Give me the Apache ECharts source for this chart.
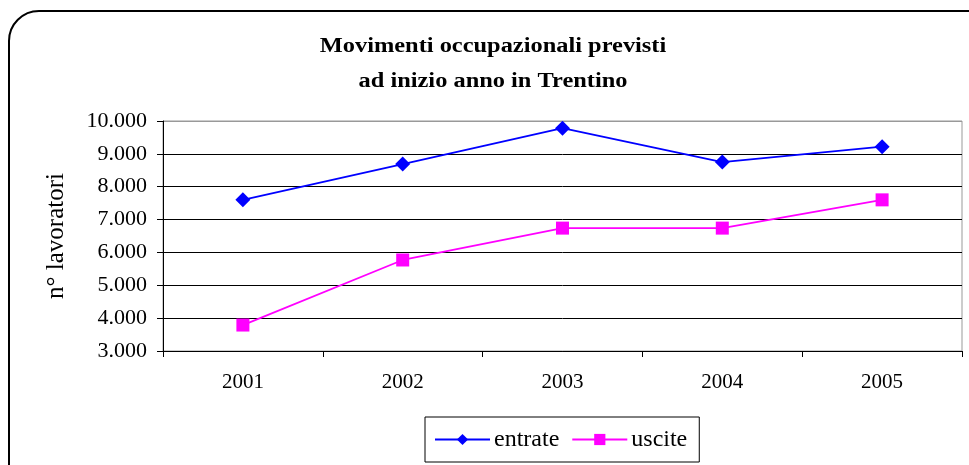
<!DOCTYPE html>
<html>
<head>
<meta charset="utf-8">
<script src="https://cdn.jsdelivr.net/npm/echarts@6/dist/echarts.min.js"></script>
<style>
  html, body { margin: 0; padding: 0; background: #fff; }
  #chart { width: 969px; height: 465px; }
</style>
</head>
<body>
<div id="chart"></div>
<script>
// dati
var anni = ['2001', '2002', '2003', '2004', '2005']
var entrate = [7600, 8690, 9780, 8750, 9220]
var uscite = [3790, 5770, 6740, 6740, 7600]
var yTicks = ['3.000', '4.000', '5.000', '6.000', '7.000', '8.000', '9.000', '10.000']

var serif = '"Liberation Serif", "DejaVu Serif", serif'

var chart = echarts.init(document.getElementById('chart'))
chart.setOption({
  animation: false,
  graphic: [
    {
      type: 'rect',
      shape: { x: 9, y: 11, width: 1000, height: 500, r: 30 },
      style: { fill: 'none', stroke: '#000', lineWidth: 2 }
    },
    {
      type: 'text',
      x: 493,
      y: 29,
      scaleX: 1.22,
      style: {
        text: 'Movimenti occupazionali previsti\nad inizio anno in Trentino',
        fontFamily: serif,
        fontWeight: 'bold',
        fontSize: 20,
        lineHeight: 35,
        textAlign: 'center',
        fill: '#000'
      }
    }
  ],
  grid: {
    left: 163,
    top: 121,
    width: 799,
    height: 230,
    show: true,
    borderColor: '#999',
    borderWidth: 1
  },
  legend: {
    left: 425,
    top: 417,
    borderColor: '#000',
    borderWidth: 1,
    padding: [10, 12, 10, 9],
    itemWidth: 55,
    itemHeight: 14,
    itemGap: 12,
    textStyle: { fontFamily: serif, fontSize: 24, lineHeight: 25, color: '#000', padding: [0, 0, 0, -1] },
    data: ['entrate', 'uscite']
  },
  xAxis: {
    type: 'category',
    data: anni,
    boundaryGap: true,
    axisLine: { lineStyle: { color: '#000', width: 1 } },
    axisTick: { show: true, alignWithLabel: false, length: 6, lineStyle: { color: '#000' } },
    axisLabel: { fontFamily: serif, fontSize: 21, color: '#000', margin: 21 }
  },
  yAxis: {
    type: 'value',
    min: 3000,
    max: 10000,
    interval: 1000,
    name: 'n° lavoratori',
    nameLocation: 'middle',
    nameGap: 94,
    nameTextStyle: { fontFamily: serif, fontSize: 25, color: '#000' },
    axisLine: { show: true, lineStyle: { color: '#000', width: 1 } },
    axisTick: { show: true, length: 6, lineStyle: { color: '#000' } },
    axisLabel: {
      fontFamily: serif,
      fontSize: 22,
      color: '#000',
      margin: 16,
      formatter: function (v) { return yTicks[(v - 3000) / 1000] }
    },
    splitLine: {
      show: true,
      lineStyle: { color: ['#000', '#000', '#000', '#000', '#000', '#000', '#000', '#999'], width: 1 }
    }
  },
  series: [
    {
      name: 'entrate',
      type: 'line',
      data: entrate,
      symbol: 'diamond',
      symbolSize: 15,
      itemStyle: { color: '#0000ff' },
      lineStyle: { color: '#0000ff', width: 1.8 }
    },
    {
      name: 'uscite',
      type: 'line',
      data: uscite,
      symbol: 'rect',
      symbolSize: 13,
      itemStyle: { color: '#ff00ff' },
      lineStyle: { color: '#ff00ff', width: 1.8 }
    }
  ]
})
</script>
</body>
</html>
